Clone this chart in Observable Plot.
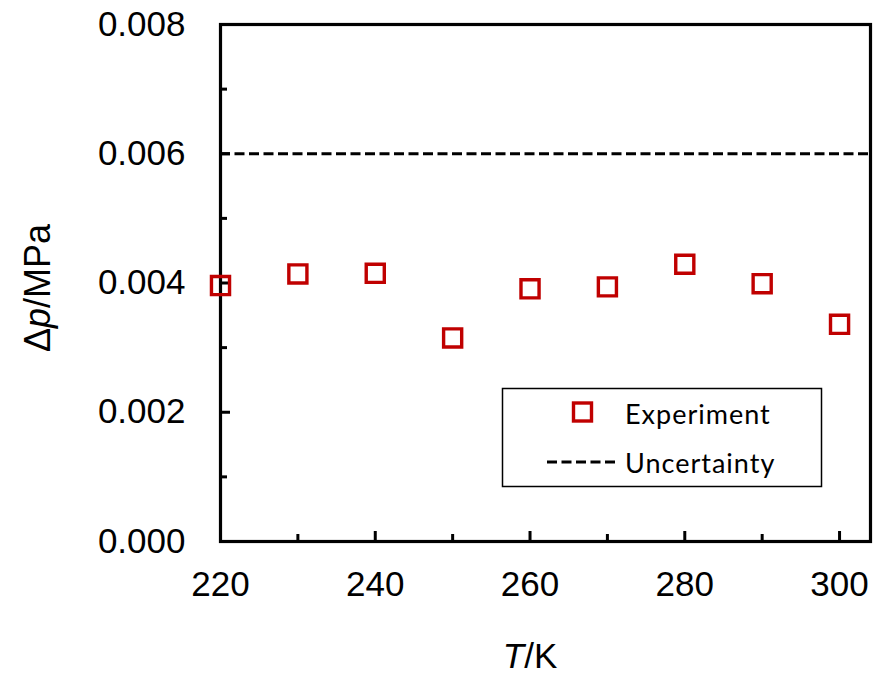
<!DOCTYPE html>
<html><head><meta charset="utf-8">
<script src="https://cdn.jsdelivr.net/npm/d3@7"></script>
<script src="https://cdn.jsdelivr.net/npm/@observablehq/plot@0.6"></script>
<style>
body{margin:0;background:#fff;}
#wrap{position:relative;width:884px;height:675px;}
</style></head><body><div id="wrap"></div>
<script>
const temperatures = [220, 230, 240, 250, 260, 270, 280, 290, 300];
const deltaP = [0.00396, 0.00414, 0.00415, 0.00315, 0.00391, 0.00394, 0.00429, 0.00399, 0.00336];
const uncertainty = 0.006;
const xMajorTicks = [220, 240, 260, 280, 300];
const xMinorTicks = [230, 250, 270, 290];
const yMajorTicks = [0, 0.002, 0.004, 0.006, 0.008];
const yMinorTicks = [0.001, 0.003, 0.005, 0.007];
const seriesNames = ["Experiment", "Uncertainty"];

const rows = temperatures.map((t, i) => ({T: t, dp: deltaP[i]}));
const red = "#C00000";
const tickStyle = {fill: "none", stroke: "black", strokeWidth: 3, label: null};

const svg = Plot.plot({
  width: 884, height: 675,
  marginLeft: 220, marginRight: 14, marginTop: 24, marginBottom: 134,
  style: {fontFamily: "'Liberation Sans', Arial, sans-serif", fontSize: "35px", color: "black", background: "white", overflow: "visible"},
  x: {domain: [220, 304]},
  y: {domain: [0, 0.008]},
  marks: [
    Plot.axisX({ticks: xMajorTicks, tickSize: 0, tickPadding: 30, tickFormat: d => String(d), fontSize: 35, fill: "black", label: null}),
    Plot.axisX({ticks: xMajorTicks, tickSize: -10, ...tickStyle}),
    Plot.axisX({ticks: xMinorTicks, tickSize: -7, ...tickStyle}),
    Plot.axisY({ticks: yMajorTicks, tickSize: 0, tickPadding: 35, tickFormat: d => d.toFixed(3), fontSize: 35, fill: "black", label: null}),
    Plot.axisY({ticks: yMajorTicks, tickSize: -10, ...tickStyle}),
    Plot.axisY({ticks: yMinorTicks, tickSize: -7, ...tickStyle}),
    Plot.ruleY([uncertainty], {stroke: "black", strokeWidth: 2.8, strokeDasharray: "10,4.5"}),
    Plot.frame({stroke: "black", strokeWidth: 3.2}),
    Plot.dot(rows, {x: "T", y: "dp", symbol: "square", r: 10.2, stroke: red, strokeWidth: 3.4, fill: "none"})
  ]
});

const s = d3.select(svg);
// axis titles
const xt = s.append("text").attr("x", 530).attr("y", 668).attr("text-anchor", "middle")
  .style("font-size", "35px").style("font-family", "'Liberation Sans', Arial, sans-serif");
xt.append("tspan").attr("font-style", "italic").text("T");
xt.append("tspan").text("/K");

const yt = s.append("text").attr("transform", "translate(50,288) rotate(-90)").attr("text-anchor", "middle")
  .style("font-size", "36px").style("font-family", "'Liberation Sans', Arial, sans-serif");
yt.append("tspan").text("Δ");
yt.append("tspan").attr("font-style", "italic").text("p");
yt.append("tspan").text("/MPa");

// legend
const lg = s.append("g");
lg.append("rect").attr("x", 502.5).attr("y", 388.5).attr("width", 319).attr("height", 98)
  .attr("fill", "white").attr("stroke", "black").attr("stroke-width", 1.5);
lg.append("rect").attr("x", 573.5).attr("y", 403).attr("width", 18).attr("height", 18)
  .attr("fill", "none").attr("stroke", red).attr("stroke-width", 3.4);
lg.append("line").attr("x1", 547).attr("x2", 619).attr("y1", 462).attr("y2", 462)
  .attr("stroke", "black").attr("stroke-width", 2.8).attr("stroke-dasharray", "10,4.5");
[[seriesNames[0], 413], [seriesNames[1], 462]].forEach(([t, y]) => {
  lg.append("text").attr("x", 625).attr("y", y).attr("dominant-baseline", "central")
    .attr("text-anchor", "start")
    .style("font-family", "Lato, 'Open Sans', sans-serif").style("font-size", "27px")
    .style("letter-spacing", "1px").text(t);
});

document.getElementById("wrap").appendChild(svg);
</script></body></html>
